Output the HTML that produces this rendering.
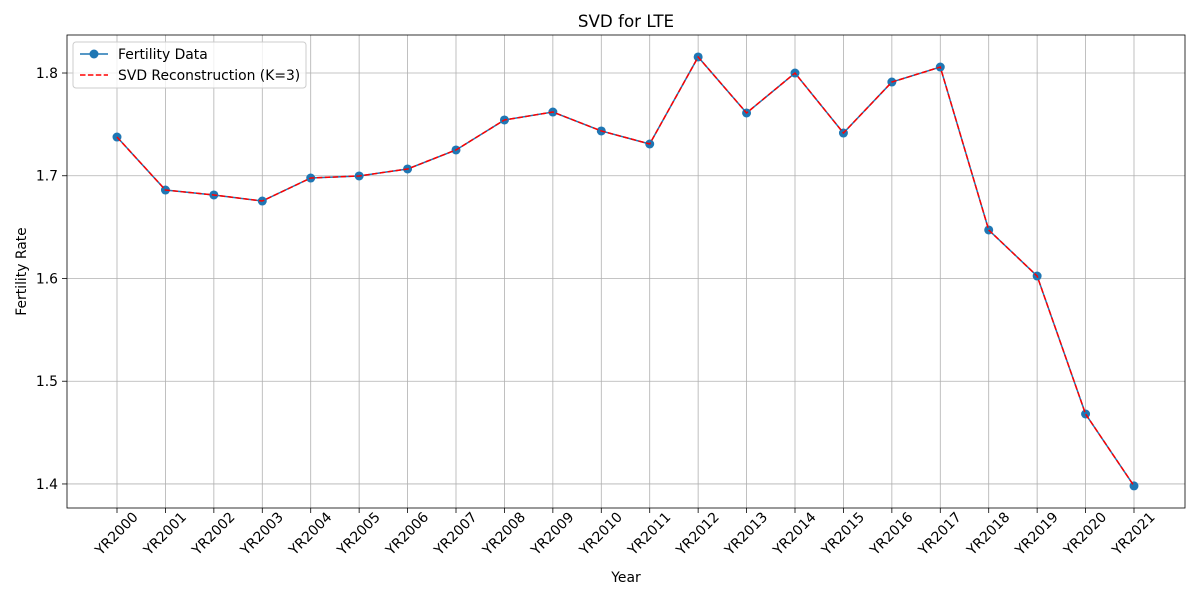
<!DOCTYPE html>
<html><head><meta charset="utf-8"><style>
body{margin:0;background:#fff;}
svg{display:block;font-family:"DejaVu Sans","Liberation Sans",sans-serif;}
</style></head><body>
<svg id="chart" width="1200" height="600"></svg>
<script>
const categories=["YR2000","YR2001","YR2002","YR2003","YR2004","YR2005","YR2006","YR2007","YR2008","YR2009","YR2010","YR2011","YR2012","YR2013","YR2014","YR2015","YR2016","YR2017","YR2018","YR2019","YR2020","YR2021"];
const fertility=[1.7377,1.6861,1.6813,1.6754,1.6978,1.6998,1.7066,1.7251,1.7543,1.7620,1.7436,1.7309,1.8156,1.7611,1.8000,1.7416,1.7912,1.8058,1.6472,1.6024,1.4681,1.3981];
const reconstruction=[1.7377,1.6861,1.6813,1.6754,1.6978,1.6998,1.7066,1.7251,1.7543,1.7620,1.7436,1.7309,1.8156,1.7611,1.8000,1.7416,1.7912,1.8058,1.6472,1.6024,1.4681,1.3981];
const yTicks=[1.4,1.5,1.6,1.7,1.8];

const NS="http://www.w3.org/2000/svg";
const svg=document.getElementById('chart');
const L=67,R=1185,T=35,B=508;
const yMin=1.3766,yMax=1.837;
const x=i=>117+i*(1134-117)/(categories.length-1);
const y=v=>B-(v-yMin)/(yMax-yMin)*(B-T);
function mk(tag,attrs,parent){const e=document.createElementNS(NS,tag);for(const k in attrs)e.setAttribute(k,attrs[k]);(parent||svg).appendChild(e);return e;}

categories.forEach((c,i)=>{
  const g=mk('line',{x1:x(i),x2:x(i),y1:T,y2:B,stroke:'#b0b0b0','stroke-width':0.8});
  
  
  const t=mk('line',{x1:x(i),x2:x(i),y1:B,y2:B+5,stroke:'#000','stroke-width':0.8});
  
  
  const lb=mk('text',{x:x(i),y:534,'font-size':13.9,'text-anchor':'middle','dominant-baseline':'central',transform:`rotate(-45 ${x(i)} 534)`});
  lb.textContent=c;
  
  
});
yTicks.forEach(v=>{
  const g=mk('line',{x1:L,x2:R,y1:y(v),y2:y(v),stroke:'#b0b0b0','stroke-width':0.8});
  
  
  const t=mk('line',{x1:L-5,x2:L,y1:y(v),y2:y(v),stroke:'#000','stroke-width':0.8});
  
  
  const lb=mk('text',{x:L-9,y:y(v)+5,'font-size':13.9,'text-anchor':'end'});
  lb.textContent=v.toFixed(1);
  
  
});
const frame=mk('rect',{x:L,y:T,width:R-L,height:B-T,fill:'none',stroke:'#000','stroke-width':0.8});



const d1=fertility.map((v,i)=>(i?'L':'M')+x(i)+','+y(v)).join(' ');
const p1=mk('path',{d:d1,fill:'none',stroke:'#1f77b4','stroke-width':1.5});


fertility.forEach((v,i)=>{
  const c=mk('circle',{cx:x(i),cy:y(v),r:4.5,fill:'#1f77b4'});
  
  
});
const d2=reconstruction.map((v,i)=>(i?'L':'M')+x(i)+','+y(v)).join(' ');
const p2=mk('path',{d:d2,fill:'none',stroke:'#ff0000','stroke-width':1.5,'stroke-dasharray':'5.5,2.4'});



const tt=mk('text',{x:(L+R)/2,y:27,'font-size':16.7,'text-anchor':'middle'});
tt.textContent='SVD for LTE';


const xt=mk('text',{x:(L+R)/2,y:582,'font-size':13.9,'text-anchor':'middle'});
xt.textContent='Year';


const yt=mk('text',{x:26,y:(T+B)/2,'font-size':13.9,'text-anchor':'middle',transform:`rotate(-90 26 ${(T+B)/2})`});
yt.textContent='Fertility Rate';



const lg=mk('g',{});


mk('rect',{x:73,y:42,width:233,height:46,rx:3,fill:'#fff','fill-opacity':0.8,stroke:'#ccc'},lg);
const e1=mk('g',{},lg);


mk('line',{x1:80,x2:108,y1:54,y2:54,stroke:'#1f77b4','stroke-width':1.5},e1);
mk('circle',{cx:94,cy:54,r:4.5,fill:'#1f77b4'},e1);
mk('text',{x:118,y:59,'font-size':13.9},e1).textContent='Fertility Data';
const e2=mk('g',{},lg);


mk('line',{x1:80,x2:108,y1:75,y2:75,stroke:'#ff0000','stroke-width':1.5,'stroke-dasharray':'5.5,2.4'},e2);
mk('text',{x:118,y:80,'font-size':13.9},e2).textContent='SVD Reconstruction (K=3)';
</script>
</body></html>
